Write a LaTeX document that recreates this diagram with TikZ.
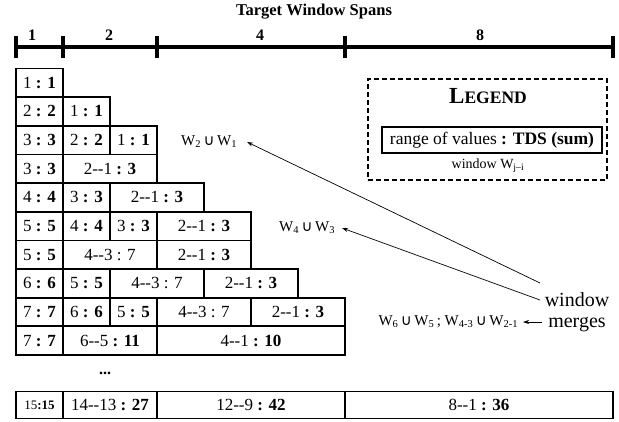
\documentclass[tikz,border=0pt]{standalone}
\usepackage{fontspec}
\setmainfont{Liberation Serif}
\newfontfamily\symfnt{DejaVu Sans}
\usetikzlibrary{arrows.meta}
\newcommand{\wcup}{\,{\symfnt ∪}\,}
\begin{document}
\begin{tikzpicture}[x=1pt,y=-1pt,
  cell/.style={draw, line width=1.8pt, anchor=north west, minimum height=28.65pt,
    inner sep=0pt, outer sep=0pt, font=\fontsize{17}{20}\selectfont},
  w1/.style={cell, minimum width=47pt},
  w2/.style={cell, minimum width=94pt},
  w4/.style={cell, minimum width=188pt},
  scaleline/.style={line width=3.6pt},
  scalelbl/.style={font=\fontsize{16}{18}\selectfont\bfseries},
  mlbl/.style={inner sep=1pt, anchor=east, font=\fontsize{15}{17}\selectfont},
  merge/.style={line width=0.7pt, -{Stealth[length=6pt,width=4pt]}}]
\useasboundingbox (0,0) rectangle (619,421);

% title and scale
\node[font=\fontsize{16.5}{19}\selectfont\bfseries] (title) at (314,12) {Target Window Spans};
\draw[scaleline] (16,47) -- (613,47);
\foreach \x in {16,63,157,345,613} \draw[scaleline] (\x,36) -- (\x,58);
\node[scalelbl] (s1) at (32,35) {1};
\node[scalelbl] (s2) at (109,35) {2};
\node[scalelbl] (s4) at (260,35) {4};
\node[scalelbl] (s8) at (480,35) {8};

% rows
\node[w1] (c11) at (16,68.5) {1 \textbf{: 1}};

\node[w1] (c21) at (16,97.15) {2 \textbf{: 2}};
\node[w1] (c22) at (63,97.15) {1 \textbf{: 1}};

\node[w1] (c31) at (16,125.8) {3 \textbf{: 3}};
\node[w1] (c32) at (63,125.8) {2 \textbf{: 2}};
\node[w1] (c33) at (110,125.8) {1 \textbf{: 1}};

\node[w1] (c41) at (16,154.45) {3 \textbf{: 3}};
\node[w2] (c42) at (63,154.45) {2-{}-1 \textbf{: 3}};

\node[w1] (c51) at (16,183.1) {4 \textbf{: 4}};
\node[w1] (c52) at (63,183.1) {3 \textbf{: 3}};
\node[w2] (c53) at (110,183.1) {2-{}-1 \textbf{: 3}};

\node[w1] (c61) at (16,211.75) {5 \textbf{: 5}};
\node[w1] (c62) at (63,211.75) {4 \textbf{: 4}};
\node[w1] (c63) at (110,211.75) {3 \textbf{: 3}};
\node[w2] (c64) at (157,211.75) {2-{}-1 \textbf{: 3}};

\node[w1] (c71) at (16,240.4) {5 \textbf{: 5}};
\node[w2] (c72) at (63,240.4) {4-{}-3 : 7};
\node[w2] (c73) at (157,240.4) {2-{}-1 \textbf{: 3}};

\node[w1] (c81) at (16,269.05) {6 \textbf{: 6}};
\node[w1] (c82) at (63,269.05) {5 \textbf{: 5}};
\node[w2] (c83) at (110,269.05) {4-{}-3 : 7};
\node[w2] (c84) at (204,269.05) {2-{}-1 \textbf{: 3}};

\node[w1] (c91) at (16,297.7) {7 \textbf{: 7}};
\node[w1] (c92) at (63,297.7) {6 \textbf{: 6}};
\node[w1] (c93) at (110,297.7) {5 \textbf{: 5}};
\node[w2] (c94) at (157,297.7) {4-{}-3 : 7};
\node[w2] (c95) at (251,297.7) {2-{}-1 \textbf{: 3}};

\node[w1] (c101) at (16,326.35) {7 \textbf{: 7}};
\node[w2] (c102) at (63,326.35) {6-{}-5 \textbf{: 11}};
\node[w4] (c103) at (157,326.35) {4-{}-1 \textbf{: 10}};

\node[font=\fontsize{16}{18}\selectfont\bfseries] (dots) at (105,373) {...};

% bottom row
\node[w1, minimum height=27pt, font=\fontsize{13}{15}\selectfont] (b1) at (16,391.5) {15\textbf{:15}};
\node[w2, minimum height=27pt] (b2) at (63,391.5) {14-{}-13 \textbf{: 27}};
\node[w4, minimum height=27pt] (b3) at (157,391.5) {12-{}-9 \textbf{: 42}};
\node[cell, minimum width=268pt, minimum height=27pt] (b4) at (345,391.5) {8-{}-1 \textbf{: 36}};

% legend
\node[draw, dashed, line width=1.2pt, dash pattern=on 5pt off 3pt,
  minimum width=239pt, minimum height=101pt] (legend) at (487.5,129.5) {};
\node[font=\bfseries] (legtitle) at (488,96)
  {{\fontsize{23}{26}\selectfont L}{\fontsize{17.5}{20}\selectfont EGEND}};
\node[draw, line width=2pt, minimum width=220pt, minimum height=26pt, inner sep=0pt,
  font=\fontsize{17.5}{20}\selectfont] (legbox) at (492,140)
  {range of values \textbf{: TDS (sum)}};
\node[font=\fontsize{14}{16}\selectfont] (legwin) at (488,166) {window W\textsubscript{j--i}};

% merges
\node[align=center, font=\fontsize{20}{21}\selectfont] (wm) at (577,312) {window\\merges};
\coordinate (m1) at (540,283);
\coordinate (m2) at (540,300);
\coordinate (m3) at (542,322);

\node[mlbl, outer xsep=9pt] (w21) at (247,142)
  {W\textsubscript{2}\wcup W\textsubscript{1}};
\node[mlbl, outer xsep=6pt] (w43) at (342,228)
  {W\textsubscript{4}\wcup W\textsubscript{3}};
\node[mlbl, outer xsep=4pt] (w65) at (523,322)
  {W\textsubscript{6}\wcup W\textsubscript{5}\,; W\textsubscript{4-3}\wcup W\textsubscript{2-1}};

\draw[merge] (m1) -- (w21.east);
\draw[merge] (m2) -- (w43.east);
\draw[merge] (m3) -- (w65.east);
\end{tikzpicture}
\end{document}
